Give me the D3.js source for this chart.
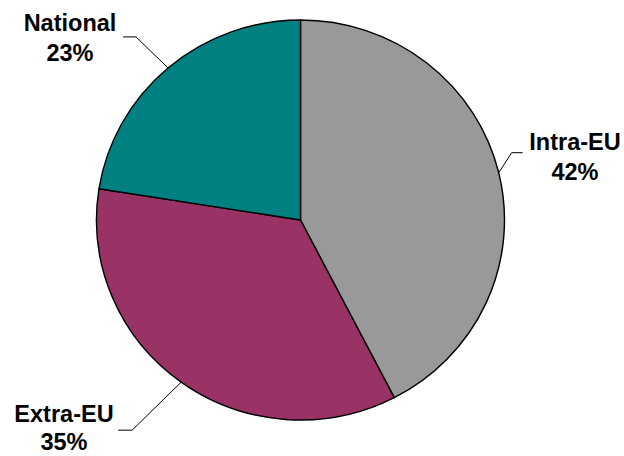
<!DOCTYPE html>
<html>
<head>
<meta charset="utf-8">
<script src="https://cdn.jsdelivr.net/npm/d3@7"></script>
<style>
html,body{margin:0;padding:0;background:#fff;}
svg{display:block;}
text{font-family:"Liberation Sans",Arial,sans-serif;font-weight:bold;font-size:23.5px;fill:#000;}
</style>
</head>
<body>
<svg id="chart" width="624" height="456"></svg>
<script>
// Data
const categories = ["Intra-EU", "Extra-EU", "National"];
const values = [42.4, 35.1, 22.5];
const colors = ["#999999", "#993366", "#008080"];

// Label layout (elbow offset from slice edge point, label anchor, line gap)
const labelLayout = [
  {elbow:[13,-20], tail:11, tx:575, ty:150, gap:30},
  {elbow:[-49,48], tail:-14, tx:64, ty:422, gap:28},
  {elbow:[-32,-31], tail:-13, tx:70, ty:31, gap:30}
];

const svg = d3.select("#chart");
const cx = 300.5, cy = 220, r = 200, sx = 1.02;

const pie = d3.pie().sort(null).value(d => d)(values);
const arc = d3.arc().innerRadius(0).outerRadius(r);

const g = svg.append("g").attr("transform", `translate(${cx},${cy}) scale(${sx},1)`);
g.selectAll("path").data(pie).enter().append("path")
  .attr("d", arc)
  .attr("fill", (d,i) => colors[i])
  .attr("stroke", "#000")
  .attr("stroke-width", 1.4)
  .attr("stroke-linejoin", "round");

// Leader lines and labels
pie.forEach((d,i) => {
  const a = (d.startAngle + d.endAngle) / 2;
  const px = cx + sx * r * Math.sin(a);
  const py = cy - r * Math.cos(a);
  const L = labelLayout[i];
  const ex = px + L.elbow[0], ey = py + L.elbow[1];
  svg.append("polyline")
    .attr("points", `${px},${py} ${ex},${ey} ${ex + L.tail},${ey}`)
    .attr("fill", "none")
    .attr("stroke", "#000")
    .attr("stroke-width", 1);
  const t = svg.append("text").attr("text-anchor", "middle");
  t.append("tspan").attr("x", L.tx).attr("y", L.ty).text(categories[i]);
  t.append("tspan").attr("x", L.tx).attr("dy", L.gap).text(Math.round(d.data) + "%");
});
</script>
</body>
</html>
